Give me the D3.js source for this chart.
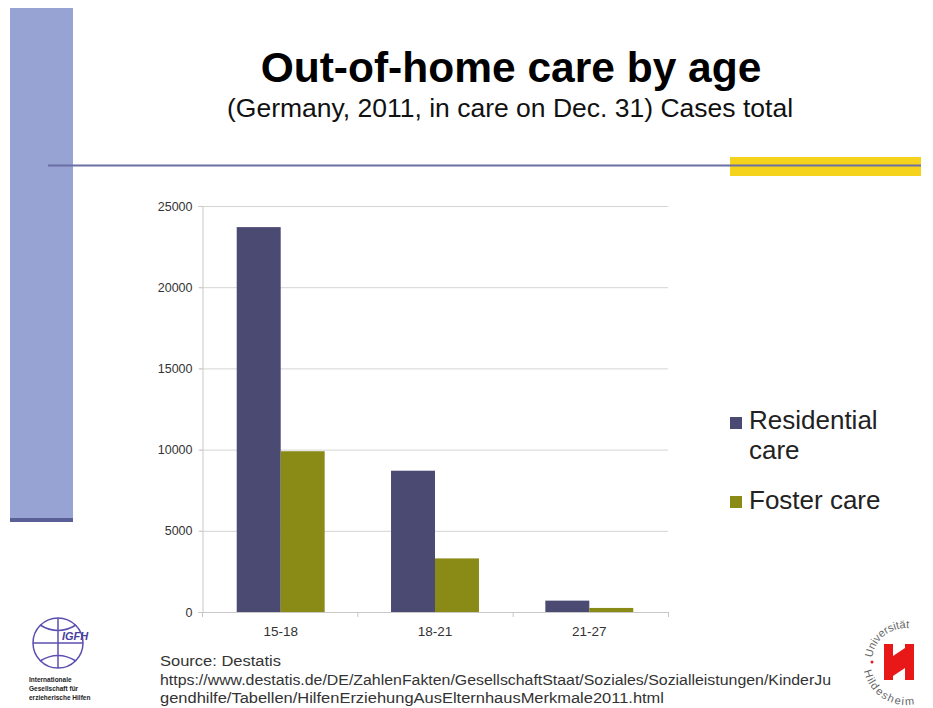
<!DOCTYPE html>
<html><head><meta charset="utf-8">
<script src="https://cdn.jsdelivr.net/npm/d3@7"></script>
<style>body{margin:0;background:#fff;overflow:hidden}svg{display:block}</style>
</head><body><svg id="c" width="933" height="708"></svg>
<script>
const categories = ["15-18", "18-21", "21-27"];
const seriesNames = ["Residential care", "Foster care"];
const residential = [23700, 8700, 700];
const foster = [9900, 3300, 250];
const yTicks = [0, 5000, 10000, 15000, 20000, 25000];
const colors = ["#4b4a72", "#8a8a17"];

const svg = d3.select("#c");
const F = "Liberation Sans, Arial, sans-serif";

// slide decoration
svg.append("rect").attr("x",10).attr("y",8).attr("width",63).attr("height",514).attr("fill","#97a3d3");
svg.append("rect").attr("x",10).attr("y",518).attr("width",63).attr("height",4).attr("fill","#5b5f98");
svg.append("rect").attr("x",730).attr("y",157).attr("width",191).attr("height",19).attr("fill","#f5d31c");
svg.append("line").attr("x1",48).attr("x2",921).attr("y1",165.5).attr("y2",165.5).attr("stroke","#6c6fa6").attr("stroke-width",2);

// titles
svg.append("text").attr("x",511).attr("y",82).attr("text-anchor","middle").attr("font-family",F).attr("font-weight","bold").attr("font-size",42.5).attr("fill","#000").text("Out-of-home care by age");
svg.append("text").attr("x",510).attr("y",117).attr("text-anchor","middle").attr("font-family",F).attr("font-size",26.5).attr("fill","#111").text("(Germany, 2011, in care on Dec. 31) Cases total");

// chart
const L = 202, R = 668, T = 206, B = 612;
const x0 = d3.scaleBand().domain(categories).range([L, R]).paddingInner(0.43).paddingOuter(0.225);
const x1 = d3.scaleBand().domain([0,1]).range([0, x0.bandwidth()]);
const y = d3.scaleLinear().domain([0, 25000]).range([B, T]);

// gridlines
svg.append("g").selectAll("line").data(yTicks.filter(d=>d>0)).join("line")
  .attr("x1",L-2).attr("x2",R).attr("y1",d=>y(d)+0.5).attr("y2",d=>y(d)+0.5)
  .attr("stroke","#d4d4d4").attr("stroke-width",1);

// y axis
const yAxis = svg.append("g").attr("transform",`translate(${L+0.5},0)`)
  .call(d3.axisLeft(y).tickValues(yTicks).tickSize(4).tickPadding(6).tickFormat(d3.format("d")));
yAxis.select(".domain").attr("stroke","#c8c8c8");
yAxis.selectAll(".tick line").attr("stroke","#c8c8c8");
yAxis.selectAll("text").attr("font-family",F).attr("font-size",12.5).attr("fill","#333");

// bars
const data = categories.map((c,i)=>({c, v:[residential[i], foster[i]]}));
svg.append("g").selectAll("g").data(data).join("g")
  .attr("transform",d=>`translate(${x0(d.c)},0)`)
  .selectAll("rect").data(d=>d.v.map((v,k)=>({v,k}))).join("rect")
  .attr("x",d=>x1(d.k)).attr("width",x1.bandwidth())
  .attr("y",d=>y(d.v)).attr("height",d=>B-y(d.v))
  .attr("fill",d=>colors[d.k]);

// x axis
const tickPos = d3.range(categories.length+1).map(i=>L+i*(R-L)/categories.length);
svg.append("line").attr("x1",L).attr("x2",R).attr("y1",B+0.5).attr("y2",B+0.5).attr("stroke","#c8c8c8");
svg.append("g").selectAll("line").data(tickPos).join("line")
  .attr("x1",d=>d+0.5).attr("x2",d=>d+0.5).attr("y1",B).attr("y2",B+5).attr("stroke","#c8c8c8");
svg.append("g").selectAll("text").data(categories).join("text")
  .attr("x",d=>x0(d)+x0.bandwidth()/2).attr("y",B+24).attr("text-anchor","middle")
  .attr("font-family",F).attr("font-size",13.5).attr("fill","#333").text(d=>d);

// legend
const lg = svg.append("g").attr("font-family",F).attr("font-size",26).attr("fill","#222");
lg.append("rect").attr("x",730).attr("y",417).attr("width",12).attr("height",12).attr("fill",colors[0]);
lg.append("text").attr("x",749).attr("y",429).text("Residential");
lg.append("text").attr("x",749).attr("y",459).text("care");
lg.append("rect").attr("x",730).attr("y",496).attr("width",12).attr("height",12).attr("fill",colors[1]);
lg.append("text").attr("x",749).attr("y",509).text("Foster care");

// source
const src = svg.append("g").attr("font-family",F).attr("font-size",14).attr("fill","#333");
src.append("text").attr("x",160).attr("y",666).attr("textLength",121).attr("lengthAdjust","spacingAndGlyphs").text("Source: Destatis");
src.append("text").attr("x",160).attr("y",685).attr("textLength",671).attr("lengthAdjust","spacingAndGlyphs").text("https://www.destatis.de/DE/ZahlenFakten/GesellschaftStaat/Soziales/Sozialleistungen/KinderJu");
src.append("text").attr("x",160).attr("y",703).attr("textLength",504).attr("lengthAdjust","spacingAndGlyphs").text("gendhilfe/Tabellen/HilfenErziehungAusElternhausMerkmale2011.html");

// IGFH logo
const lo = svg.append("g").attr("fill","none").attr("stroke","#5b4fb0").attr("stroke-width",1.5);
lo.append("circle").attr("cx",58).attr("cy",643).attr("r",25);
lo.append("line").attr("x1",33).attr("x2",83).attr("y1",643).attr("y2",643);
lo.append("line").attr("x1",58).attr("x2",58).attr("y1",618).attr("y2",668);
lo.append("path").attr("d","M40,625 Q58,636 76,625");
lo.append("path").attr("d","M40,661 Q58,650 76,661");
svg.append("text").attr("x",62).attr("y",640).attr("font-family",F).attr("font-style","italic").attr("font-weight","bold").attr("font-size",11).attr("fill","#4a3fa0").text("IGFH");
const lt = svg.append("g").attr("font-family",F).attr("font-weight","bold").attr("font-size",6.5).attr("fill","#222");
lt.append("text").attr("x",29).attr("y",682).text("Internationale");
lt.append("text").attr("x",29).attr("y",691).text("Gesellschaft für");
lt.append("text").attr("x",29).attr("y",700).text("erzieherische Hilfen");

// Uni Hildesheim logo
const uh = svg.append("g");
uh.append("path").attr("id","arcTop").attr("d","M872,662 A34,34 0 0 1 940,662").attr("fill","none");
uh.append("path").attr("id","arcBot").attr("d","M872,662 A34,34 0 0 0 940,662").attr("fill","none");
uh.append("text").attr("font-family",F).attr("font-size",11).attr("fill","#666")
  .append("textPath").attr("href","#arcTop").attr("startOffset","4%").text("Universität");
uh.append("text").attr("font-family",F).attr("font-size",11).attr("fill","#666").attr("dy",9)
  .append("textPath").attr("href","#arcBot").attr("startOffset","6%").text("Hildesheim");
uh.append("path").attr("fill","#e81818").attr("d","M884,644 h9 v12 l12,-8 v-4 h9 v36 h-9 v-12 l-12,8 v4 h-9 z M893,662 l12,-8 v14 l-12,8 z");
uh.append("circle").attr("cx",872).attr("cy",662).attr("r",1.5).attr("fill","#e81818");
</script></body></html>
